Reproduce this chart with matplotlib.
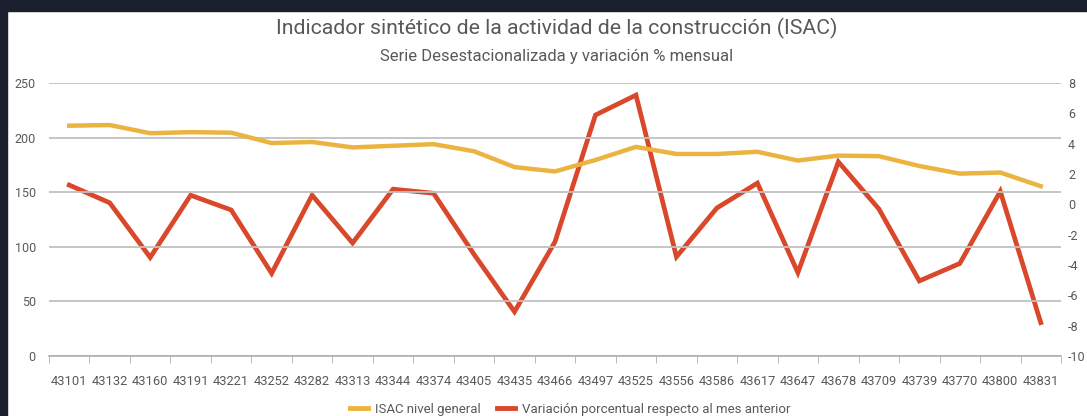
import matplotlib.pyplot as plt
from matplotlib.patches import Rectangle
from matplotlib.lines import Line2D

# Categories (Excel serial dates as shown on the axis)
fechas = ["43101", "43132", "43160", "43191", "43221", "43252", "43282", "43313",
          "43344", "43374", "43405", "43435", "43466", "43497", "43525", "43556",
          "43586", "43617", "43647", "43678", "43709", "43739", "43770", "43800",
          "43831"]

# ISAC nivel general (eje izquierdo)
isac = [210.9, 211.5, 204.0, 205.0, 204.5, 195.0, 196.0, 191.0, 192.5, 194.0,
        187.5, 173.0, 169.0, 179.5, 191.5, 185.0, 185.0, 187.0, 179.0, 183.5,
        183.0, 174.0, 167.0, 168.0, 155.5]

# Variación % mensual (eje derecho)
variacion = [1.27, 0.1, -3.5, 0.6, -0.37, -4.55, 0.6, -2.55, 1.0, 0.73,
             -3.3, -7.08, -2.47, 5.89, 7.2, -3.46, -0.24, 1.4, -4.5, 2.8,
             -0.3, -5.05, -3.9, 0.85, -7.8]

left_ticks = [0, 50, 100, 150, 200, 250]
right_ticks = [8, 6, 4, 2, 0, -2, -4, -6, -8, -10]

txt = "#595959"
plt.rcParams["font.family"] = ["Roboto", "DejaVu Sans"]
plt.rcParams["axes.unicode_minus"] = False

fig = plt.figure(figsize=(10.87, 4.16), dpi=100)
fig.patch.set_facecolor("white")
# dark frame at top and left
fig.patches.append(Rectangle((0, 1 - 11 / 416), 1, 11 / 416, transform=fig.transFigure,
                             color="#1b1f2e", zorder=10))
fig.patches.append(Rectangle((0, 0), 7 / 1087, 1, transform=fig.transFigure,
                             color="#1b1f2e", zorder=10))

ax = fig.add_axes([49 / 1087, 60 / 416, (1061 - 49) / 1087, (356 - 83) / 416])
ax2 = ax.twinx()

x = list(range(len(fechas)))
ax.plot(x, isac, color="#ebb440", lw=3.2, solid_joinstyle="round", zorder=3)
ax2.plot(x, variacion, color="#d9482b", lw=3.4, solid_joinstyle="miter", zorder=3)
ax.set_zorder(ax2.get_zorder() + 1)
ax.patch.set_visible(False)

ax.set_xlim(-0.5, len(fechas) - 0.5)
ax.set_ylim(0, 250)
ax2.set_ylim(-10, 8)
ax.set_yticks(left_ticks)
ax2.set_yticks(right_ticks)
ax.yaxis.grid(True, color="#c0c0c0", lw=1.3)
ax.set_axisbelow(True)

ax.set_xticks(x)
ax.set_xticklabels(fechas)
ax.set_xticks([i - 0.5 for i in range(len(fechas) + 1)], minor=True)
ax.tick_params(axis="x", which="major", length=0, pad=14, labelsize=9.3, colors=txt)
ax.tick_params(axis="x", which="minor", length=5, color="#b0b0b0", direction="out")
ax.tick_params(axis="y", length=0, pad=9.5, labelsize=9, colors=txt)
ax2.tick_params(axis="y", length=0, pad=5, labelsize=9, colors=txt)

for a in (ax, ax2):
    for s in ("left", "right", "top", "bottom"):
        a.spines[s].set_visible(False)
ax.spines["bottom"].set_visible(True)
ax.spines["bottom"].set_color("#b0b0b0")
ax.spines["bottom"].set_linewidth(1.2)

titulo = fig.text(557 / 1087, 1 - 28 / 416,
                  "Indicador sintético de la actividad de la construcción (ISAC)",
                  ha="center", va="center", fontsize=14, color=txt)
subtitulo = fig.text(557 / 1087, 1 - 56 / 416, "Serie Desestacionalizada y variación % mensual",
                     ha="center", va="center", fontsize=10, color=txt)

handles = [Line2D([], [], color="#ebb440", lw=3.5),
           Line2D([], [], color="#d9482b", lw=3.5)]
leg = fig.legend(handles, ["ISAC nivel general", "Variación porcentual respecto al mes anterior"],
                 loc="center", bbox_to_anchor=(570 / 1087, 7 / 416), ncol=2, frameon=False,
                 fontsize=9.5, labelcolor=txt, handlelength=1.4, columnspacing=1.2,
                 handletextpad=0.5)

# scale the title texts to the widths they take in the reference
fig.canvas.draw()
r = fig.canvas.get_renderer()
for t, w in ((titulo, 565), (subtitulo, 354)):
    t.set_fontsize(t.get_fontsize() * w / t.get_window_extent(r).width)

fig.savefig("out.png", dpi=100)
